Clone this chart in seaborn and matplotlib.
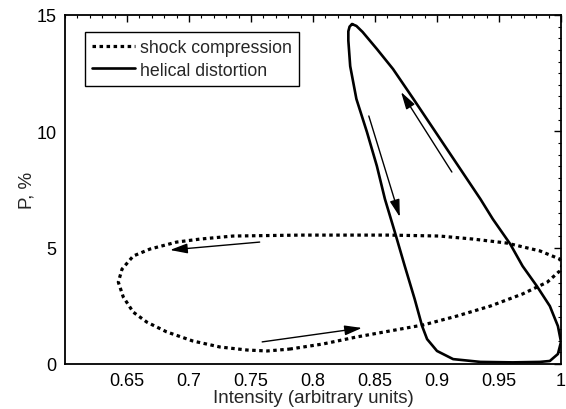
import numpy as np
import pandas as pd
import matplotlib
matplotlib.use("Agg")
import matplotlib.pyplot as plt
import seaborn as sns
from matplotlib.ticker import MultipleLocator

# --- data ---
shock_x = [0.781, 0.808, 0.835, 0.862, 0.889, 0.916, 0.943, 0.969, 0.989, 0.999, 1.001,
           0.999, 0.983, 0.956, 0.929, 0.902, 0.862, 0.808, 0.7895, 0.7355, 0.709, 0.690,
           0.6685, 0.655, 0.646, 0.643, 0.647, 0.655, 0.666, 0.682, 0.703, 0.725, 0.747,
           0.763, 0.781]
shock_y = [0.64, 0.86, 1.16, 1.42, 1.68, 2.06, 2.49, 3.01, 3.52, 4.00, 4.25,
           4.51, 4.86, 5.20, 5.37, 5.50, 5.54, 5.54, 5.54, 5.50, 5.37, 5.24,
           4.94, 4.64, 4.08, 3.52, 2.88, 2.23, 1.80, 1.38, 0.99, 0.73, 0.60,
           0.56, 0.64]

helix_x = [0.8315, 0.8295, 0.8285, 0.8285, 0.830, 0.835, 0.8435, 0.8515, 0.858, 0.866,
           0.874, 0.882, 0.888, 0.892, 0.900, 0.913, 0.935, 0.961, 0.983, 0.991, 0.9975,
           1.000, 0.9975, 0.991, 0.9805, 0.969, 0.959, 0.945, 0.935, 0.908, 0.881, 0.8645,
           0.8515, 0.840, 0.835, 0.8315]
helix_y = [14.61, 14.50, 14.30, 13.90, 12.80, 11.39, 9.97, 8.51, 7.09, 5.67,
           4.21, 2.79, 1.63, 1.07, 0.56, 0.21, 0.09, 0.07, 0.09, 0.13, 0.43,
           0.95, 1.63, 2.49, 3.35, 4.21, 5.16, 6.23, 7.09, 9.24, 11.39, 12.68,
           13.54, 14.27, 14.53, 14.61]

# arrows: (start_x, start_y) -> (tip_x, tip_y)
arrow_start_x = [0.757, 0.759, 0.912, 0.845]
arrow_start_y = [5.24, 0.95, 8.25, 10.66]
arrow_tip_x = [0.6847, 0.8395, 0.871, 0.870]
arrow_tip_y = [4.90, 1.55, 11.69, 6.32]

series_labels = ["shock compression", "helical distortion"]
x_ticks = [0.65, 0.7, 0.75, 0.8, 0.85, 0.9, 0.95, 1.0]
x_tick_labels = ["0.65", "0.7", "0.75", "0.8", "0.85", "0.9", "0.95", "1"]
y_ticks = [0, 5, 10, 15]

sns.set_style("white")
plt.rcParams["font.family"] = ["Liberation Sans", "DejaVu Sans"]

fig = plt.figure(figsize=(5.66, 4.10), dpi=100)
ax = fig.add_axes([65 / 566, 45 / 410, 496 / 566, 349 / 410])

df_s = pd.DataFrame({"x": shock_x, "y": shock_y})
df_h = pd.DataFrame({"x": helix_x, "y": helix_y})

sns.lineplot(data=df_s, x="x", y="y", sort=False, estimator=None, ax=ax,
             color="black", lw=2.3, linestyle=(0, (1.1, 1.1)), label=series_labels[0])
sns.lineplot(data=df_h, x="x", y="y", sort=False, estimator=None, ax=ax,
             color="black", lw=1.9, label=series_labels[1])

for sx, sy, tx, ty in zip(arrow_start_x, arrow_start_y, arrow_tip_x, arrow_tip_y):
    ax.annotate("", xy=(tx, ty), xytext=(sx, sy),
                arrowprops=dict(arrowstyle="-|>,head_length=1.05,head_width=0.3",
                                color="black", lw=1.0, shrinkA=0, shrinkB=0))

ax.set_xlim(0.6, 1.0)
ax.set_ylim(0, 15)
ax.set_xticks(x_ticks)
ax.set_xticklabels(x_tick_labels)
ax.set_yticks(y_ticks)
ax.xaxis.set_minor_locator(MultipleLocator(0.01))
ax.yaxis.set_minor_locator(MultipleLocator(0.5))
ax.tick_params(which="both", direction="in", top=True, right=True, colors="black")
ax.tick_params(which="major", length=5, width=1.0, labelsize=13, pad=6)
ax.tick_params(which="minor", length=2.5, width=0.8)
for s in ax.spines.values():
    s.set_color("black")
    s.set_linewidth(1.3)

ax.set_xlabel("Intensity (arbitrary units)", fontsize=13.5, labelpad=0)
ax.set_ylabel("P, %", fontsize=13.5, labelpad=1)

leg = ax.legend(loc="upper left", bbox_to_anchor=(0.040, 0.951), borderaxespad=0,
                fancybox=False, framealpha=1, edgecolor="black", fontsize=12.8,
                handlelength=2.4, handletextpad=0.3, labelspacing=0.3,
                borderpad=0.4)
leg.get_frame().set_linewidth(1.0)

fig.savefig("out.png", dpi=100)
